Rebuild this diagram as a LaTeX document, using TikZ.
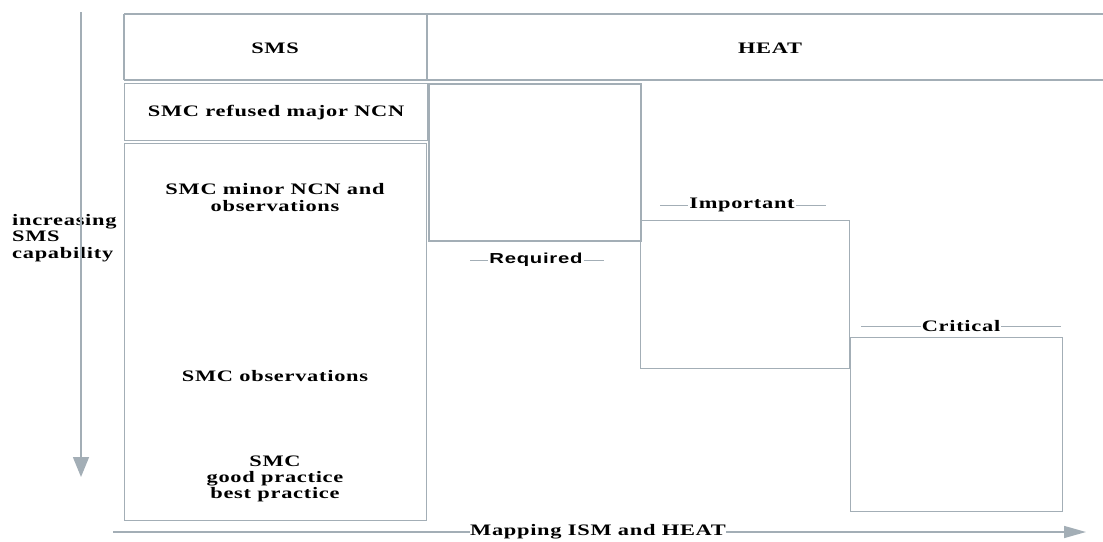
\documentclass[tikz,border=0pt]{standalone}
\usepackage{fontspec}
\setmainfont{Liberation Serif}[FakeStretch=1.4,LetterSpace=4.5]
\setsansfont{Liberation Sans}[FakeStretch=1.4,LetterSpace=5]
\usetikzlibrary{arrows.meta}
\definecolor{rule}{HTML}{A3AEB6}
\begin{document}
\begin{tikzpicture}[x=1pt,y=-1pt,
  thinbox/.style={draw=rule,line width=1.2pt,inner sep=0pt,anchor=north west},
  lbl/.style={font=\fontsize{16}{16.5}\selectfont\bfseries,align=center,inner sep=1pt},
  tag/.style={font=\fontsize{16}{16.5}\selectfont\bfseries,inner sep=1pt},
  tagline/.style={draw=rule,line width=1pt},
  axis/.style={draw=rule,line width=1.5pt}]
\useasboundingbox (0,0) rectangle (1103,541);

% header row
\draw[rule,line width=2.4pt] (124,14) -- (1103,14) (124,80) -- (1103,80)
  (124,14) -- (124,80) (427,14) -- (427,80);
\node[lbl] (sms) at (275,48) {SMS};
\node[lbl] (heat) at (770,48) {HEAT};

% SMS column
\node[thinbox,minimum width=303pt,minimum height=57pt] (refused) at (124,83) {};
\node[lbl] at (refused.center) {SMC refused major NCN};
\node[thinbox,minimum width=302pt,minimum height=377pt] (sep) at (124,143) {};
\node[lbl,font=\fontsize{16}{17}\selectfont\bfseries] (minor) at (275,198) {SMC minor NCN and\\observations};
\node[lbl] (obs) at (275,376) {SMC observations};
\node[lbl,font=\fontsize{16}{16}\selectfont\bfseries] (good) at (275,479) {SMC\\good practice\\best practice};

% HEAT levels
\node[draw=rule,line width=2pt,inner sep=0pt,anchor=north west,minimum width=212pt,minimum height=157pt] (req) at (428,83) {};
\node[thinbox,minimum width=209pt,minimum height=148pt] (imp) at (640,220) {};
\node[thinbox,minimum width=212pt,minimum height=174pt] (crit) at (850,337) {};

% level tags with side rules
\node[tag,font=\sffamily\fontsize{14.5}{15}\selectfont\bfseries] (treq) at (536,260) {Required};
\coordinate (rqa) at (470,260); \coordinate (rqb) at (604,260);
\draw[tagline] (rqa) -- (treq.west) (treq.east) -- (rqb);
\node[tag] (timp) at (742,205) {Important};
\coordinate (ima) at (660,205); \coordinate (imb) at (826,205);
\draw[tagline] (ima) -- (timp.west) (timp.east) -- (imb);
\node[tag] (tcrit) at (961,326) {Critical};
\coordinate (cra) at (861,326); \coordinate (crb) at (1061,326);
\draw[tagline] (cra) -- (tcrit.west) (tcrit.east) -- (crb);

% vertical axis
\node[lbl,align=left,anchor=west,inner sep=0pt] (cap) at (12,238) {increasing\\SMS\\capability};
\coordinate (vtop) at (81,12); \coordinate (vbot) at (81,477);
\draw[axis,-{Triangle[length=20pt,width=16pt]}] (vtop) -- (vbot);

% horizontal axis
\node[lbl,inner sep=0pt] (map) at (598,532) {Mapping ISM and HEAT};
\coordinate (hl) at (113,532); \coordinate (hr) at (1086,532);
\draw[axis] (hl) -- (map.west);
\draw[axis,-{Triangle[length=22pt,width=12pt]}] (map.east) -- (hr);
\end{tikzpicture}
\end{document}
